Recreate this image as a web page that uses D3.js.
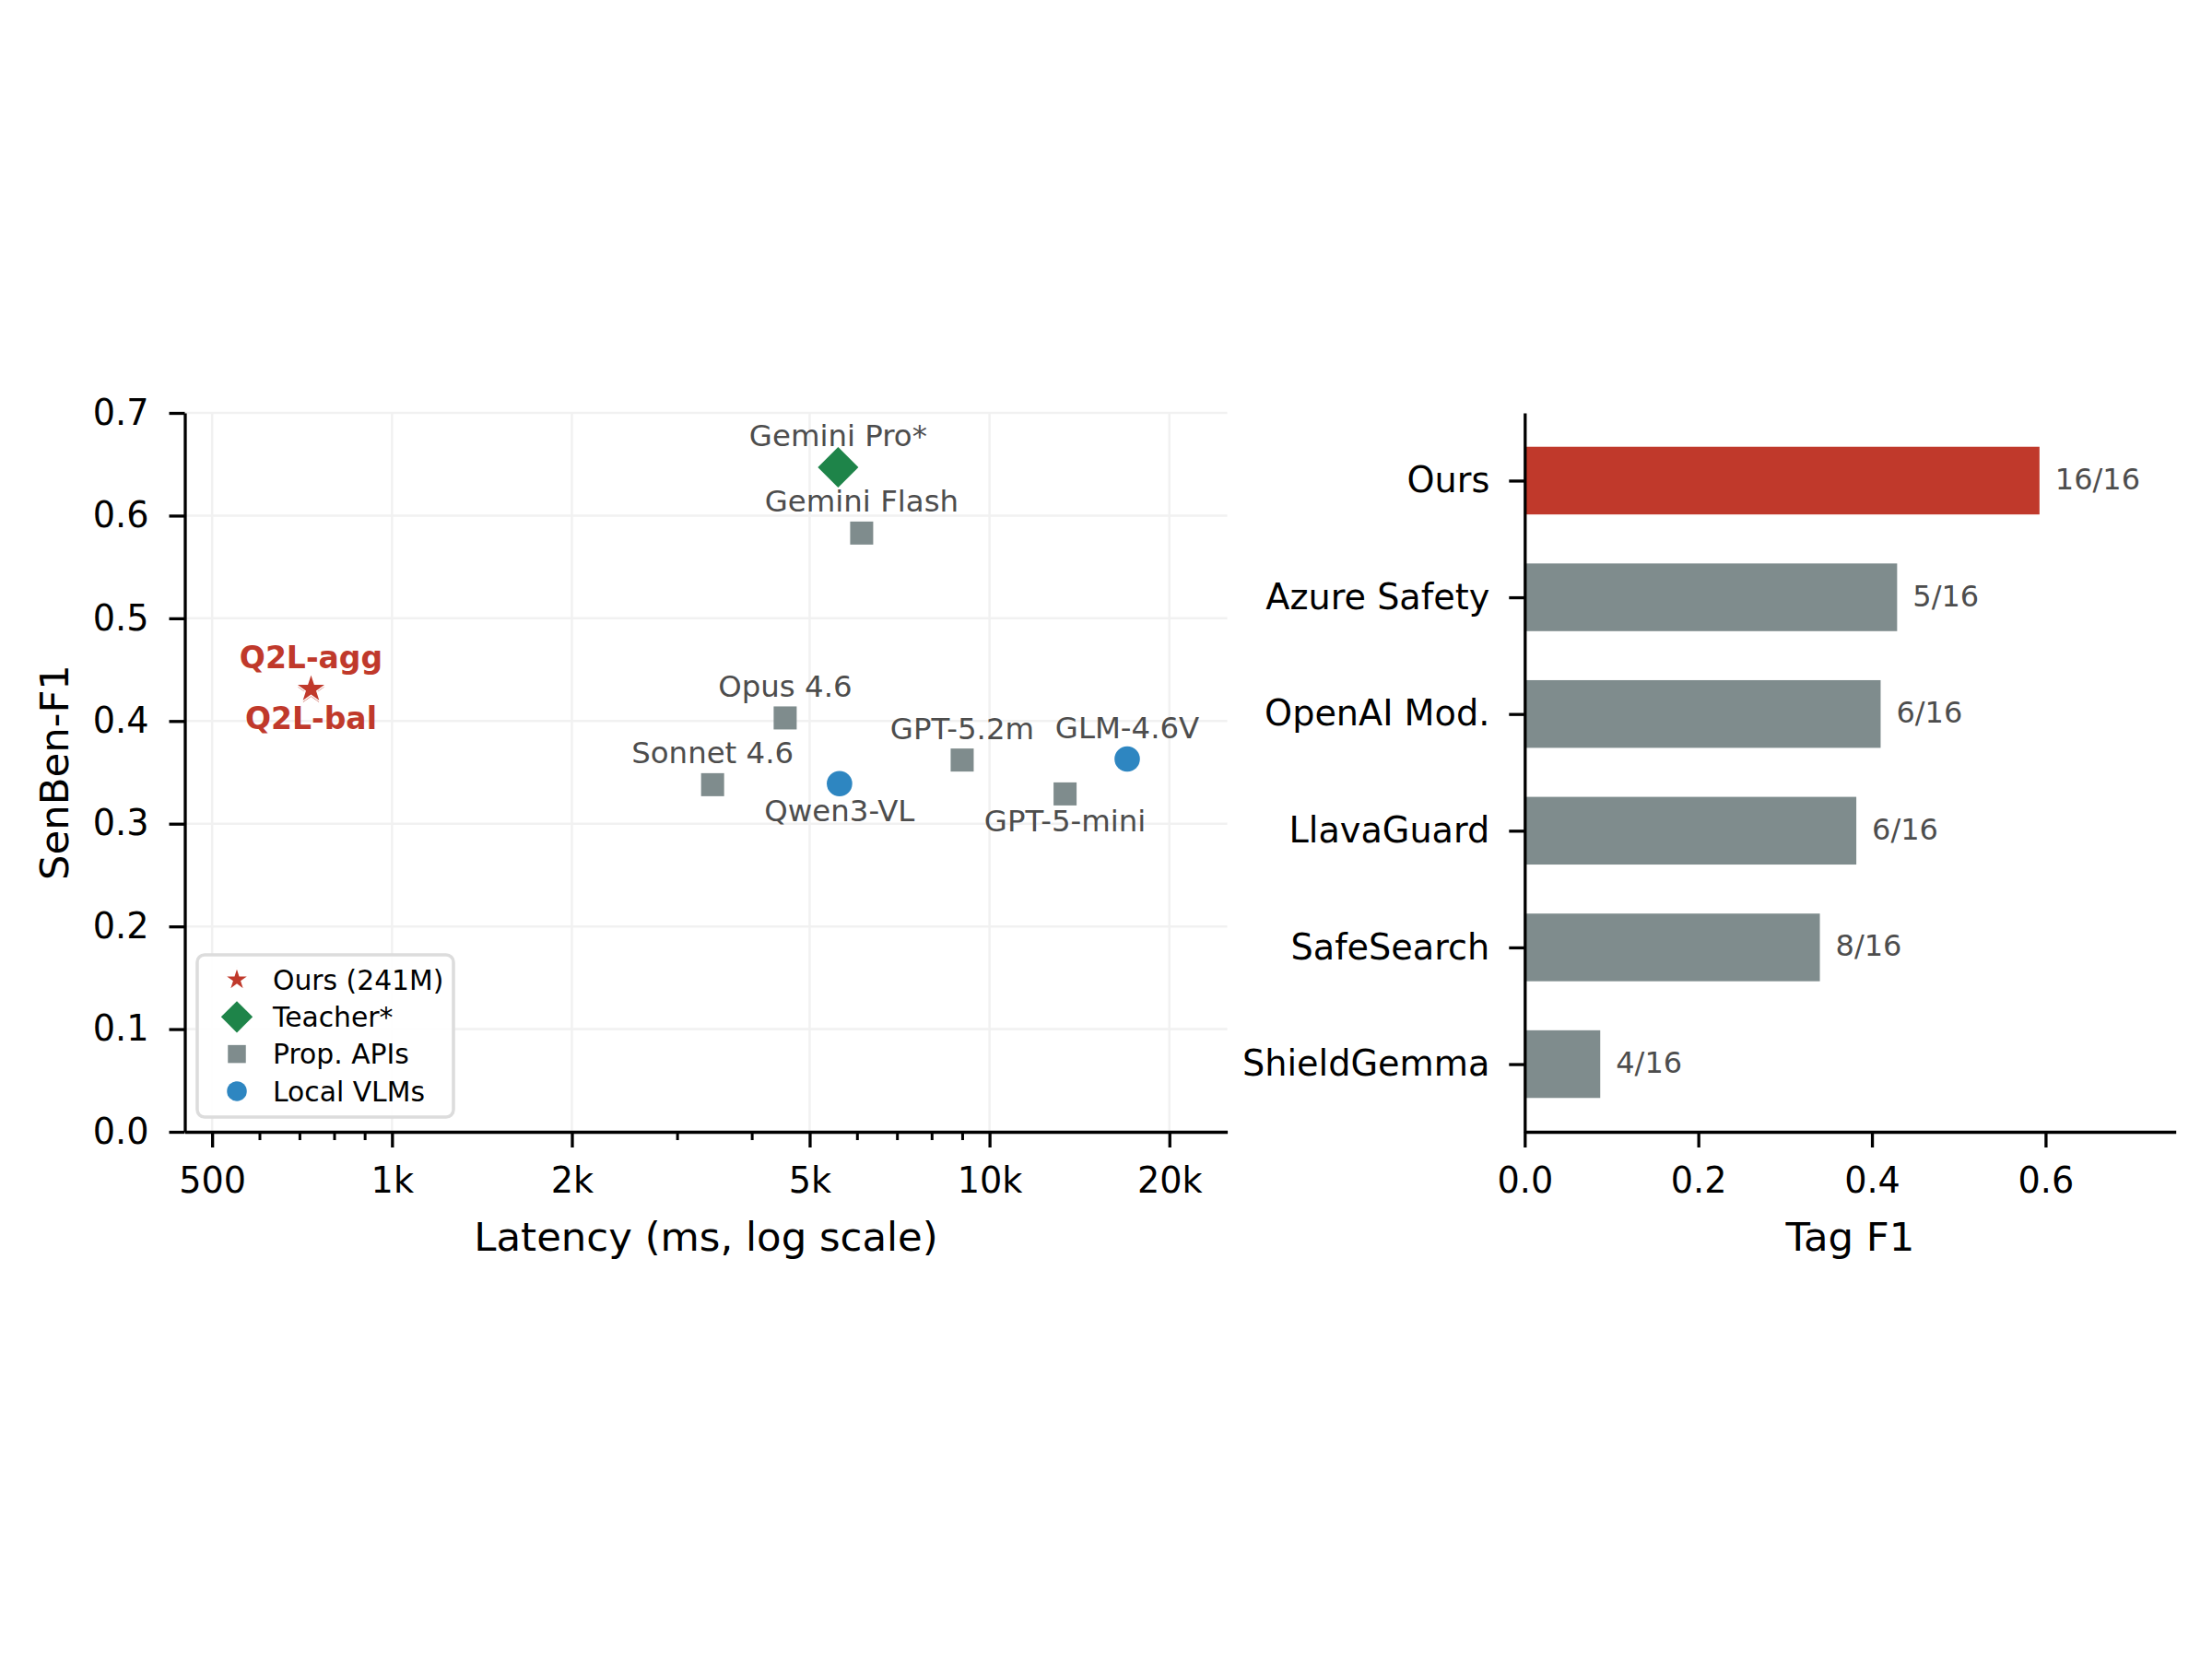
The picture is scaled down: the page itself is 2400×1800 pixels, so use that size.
<!DOCTYPE html>
<meta charset="utf-8">
<style>
  body { margin: 0; background: #fff; }
  text { font-family: "DejaVu Sans", sans-serif; }
</style>
<body>
<svg id="chart" width="2400" height="1800"></svg>
</body>
<script src="https://d3js.org/d3.v7.min.js"></script>
<script>
// left panel data: latency vs SenBen-F1
var modelNames = ["Q2L-bal", "Q2L-agg", "Gemini Pro*", "Gemini Flash", "Opus 4.6", "Sonnet 4.6", "Qwen3-VL", "GPT-5.2m", "GPT-5-mini", "GLM-4.6V"];
var modelGroups = ["ours", "ours", "teacher", "api", "api", "api", "local", "api", "api", "local"];
var latencyMs = [732, 732, 5580, 6110, 4550, 3440, 5610, 9000, 13380, 17000];
var senbenF1 = [0.429, 0.431, 0.647, 0.583, 0.403, 0.338, 0.339, 0.362, 0.329, 0.363];

var latencyTicks = [500, 1000, 2000, 5000, 10000, 20000];
var latencyTickLabels = ["500", "1k", "2k", "5k", "10k", "20k"];
var latencyMinor = [600, 700, 800, 900, 3000, 4000, 6000, 7000, 8000, 9000];

var legendGroups = ["ours", "teacher", "api", "local"];
var legendLabels = ["Ours (241M)", "Teacher*", "Prop. APIs", "Local VLMs"];

// right panel data: tag F1
var tagModels = ["Ours", "Azure Safety", "OpenAI Mod.", "LlavaGuard", "SafeSearch", "ShieldGemma"];
var tagF1 = [0.593, 0.429, 0.410, 0.382, 0.340, 0.087];
var tagCoverage = ["16/16", "5/16", "6/16", "6/16", "8/16", "4/16"];

// styling
var colors = {ours: "#c0392b", teacher: "#1e8449", api: "#7f8c8d", local: "#2e86c1"};
var labelBelow = {"Q2L-bal": true, "Qwen3-VL": true, "GPT-5-mini": true};
var tickFont = 38.2, labelFont = 43.4, annFont = 32.4, legendFont = 29.8;

var svg = d3.select("#chart");

function starPath(R) {
  var pts = [];
  for (var i = 0; i < 10; i++) {
    var r = i % 2 ? R * 0.382 : R;
    var a = -Math.PI / 2 + i * Math.PI / 5;
    pts.push([r * Math.cos(a), r * Math.sin(a)]);
  }
  return "M" + pts.map(function(p){ return p[0].toFixed(2) + "," + p[1].toFixed(2); }).join("L") + "Z";
}

function drawMarker(g, group, scale) {
  var c = colors[group];
  if (group == "ours") {
    g.append("path").attr("d", starPath(17.5 * scale)).attr("fill", c)
      .attr("stroke", "#fff").attr("stroke-width", 1.5);
  } else if (group == "teacher") {
    var h = 22 * scale;
    g.append("path").attr("d", "M0," + (-h) + "L" + h + ",0L0," + h + "L" + (-h) + ",0Z").attr("fill", c);
  } else if (group == "api") {
    var s = 25 * scale;
    g.append("rect").attr("x", -s / 2).attr("y", -s / 2).attr("width", s).attr("height", s).attr("fill", c);
  } else {
    g.append("circle").attr("r", 13.8 * scale).attr("fill", c);
  }
}

function styleAxis(g) {
  g.select(".domain").attr("stroke", "#000").attr("stroke-width", 3.3);
  g.selectAll(".tick line").attr("stroke", "#000").attr("stroke-width", 3.3);
  g.selectAll(".tick text").attr("fill", "#000").style("font-size", tickFont + "px")
    .style("font-family", "DejaVu Sans");
}

// ---------- left panel ----------
var x = d3.scaleLog().domain([450, 25000]).range([200.5, 1331.6]),
    y = d3.scaleLinear().domain([0, 0.7]).range([1228, 448]);

var left = svg.append("g");

// grid
left.append("g").selectAll("line").data(latencyTicks).enter().append("line")
  .attr("x1", function(d){ return x(d); }).attr("x2", function(d){ return x(d); })
  .attr("y1", y(0)).attr("y2", y(0.7))
  .attr("stroke", "#f1f1f1").attr("stroke-width", 2.5);
left.append("g").selectAll("line").data(d3.range(0, 8).map(function(i){ return i / 10; })).enter().append("line")
  .attr("x1", x.range()[0]).attr("x2", x.range()[1])
  .attr("y1", function(d){ return y(d); }).attr("y2", function(d){ return y(d); })
  .attr("stroke", "#f1f1f1").attr("stroke-width", 2.5);

// axes
var xAxis = left.append("g").attr("transform", "translate(0," + y(0) + ")")
  .call(d3.axisBottom(x).tickValues(latencyTicks)
    .tickFormat(function(d, i){ return latencyTickLabels[i]; })
    .tickSize(17).tickPadding(22).tickSizeOuter(0));
styleAxis(xAxis);
left.append("g").attr("transform", "translate(0," + y(0) + ")")
  .call(d3.axisBottom(x).tickValues(latencyMinor).tickFormat("").tickSize(9).tickSizeOuter(0))
  .call(function(g){
    g.select(".domain").remove();
    g.selectAll(".tick line").attr("stroke", "#000").attr("stroke-width", 3);
  });

var yAxis = left.append("g").attr("transform", "translate(" + x.range()[0] + ",0)")
  .call(d3.axisLeft(y).tickValues(d3.range(0, 8).map(function(i){ return i / 10; }))
    .tickFormat(d3.format(".1f")).tickSize(17).tickPadding(22).tickSizeOuter(0));
styleAxis(yAxis);

left.append("text").attr("x", (x.range()[0] + x.range()[1]) / 2).attr("y", 1357)
  .attr("text-anchor", "middle").style("font-size", labelFont + "px").text("Latency (ms, log scale)");
left.append("text").attr("transform", "translate(74," + (y(0.35)) + ") rotate(-90)")
  .attr("text-anchor", "middle").style("font-size", labelFont + "px").text("SenBen-F1");

// points
modelNames.forEach(function(name, i){
  var g = left.append("g").attr("transform", "translate(" + x(latencyMs[i]) + "," + y(senbenF1[i]) + ")");
  drawMarker(g, modelGroups[i], 1);
});

// annotations
modelNames.forEach(function(name, i){
  var ours = modelGroups[i] == "ours";
  left.append("text")
    .attr("x", x(latencyMs[i]))
    .attr("y", y(senbenF1[i]) + (labelBelow[name] ? 41 : -23))
    .attr("text-anchor", "middle")
    .attr("fill", ours ? colors.ours : "#4d4d4d")
    .attr("font-weight", ours ? "bold" : "normal")
    .style("font-size", (ours ? 33 : annFont) + "px")
    .text(name);
});

// legend
var legend = left.append("g");
legend.append("rect").attr("x", 214).attr("y", 1036).attr("width", 278).attr("height", 176)
  .attr("rx", 8).attr("fill", "#fff").attr("fill-opacity", 0.9)
  .attr("stroke", "#dcdcdc").attr("stroke-width", 3.5);
legendGroups.forEach(function(grp, i){
  var cy = 1063 + i * 40.3;
  var g = legend.append("g").attr("transform", "translate(257," + cy + ")");
  drawMarker(g, grp, 0.78);
  legend.append("text").attr("x", 296).attr("y", cy).attr("dy", "0.36em")
    .style("font-size", legendFont + "px").text(legendLabels[i]);
});

// ---------- right panel ----------
var xb = d3.scaleLinear().domain([0, 0.75]).range([1654.3, 2360.7]),
    yb = d3.scaleLinear().domain([-0.58, 5.58]).range([1228, 448]);
var barH = yb(0) - yb(0.58);
var n = tagModels.length;

var right = svg.append("g");
right.selectAll("rect.bar").data(tagF1).enter().append("rect")
  .attr("class", "bar")
  .attr("x", xb(0))
  .attr("y", function(d, i){ return yb(n - 1 - i) - barH / 2; })
  .attr("width", function(d){ return xb(d) - xb(0); })
  .attr("height", barH)
  .attr("fill", function(d, i){ return i == 0 ? colors.ours : colors.api; });

right.selectAll("text.val").data(tagF1).enter().append("text")
  .attr("class", "val")
  .attr("x", function(d){ return xb(d) + 17; })
  .attr("y", function(d, i){ return yb(n - 1 - i) - 2; })
  .attr("dy", "0.36em")
  .attr("fill", "#4d4d4d")
  .style("font-size", "32px")
  .text(function(d, i){ return tagCoverage[i]; });

var xbAxis = right.append("g").attr("transform", "translate(0," + yb.range()[0] + ")")
  .call(d3.axisBottom(xb).tickValues([0, 0.2, 0.4, 0.6]).tickFormat(d3.format(".1f"))
    .tickSize(17).tickPadding(22).tickSizeOuter(0));
styleAxis(xbAxis);

var ybAxis = right.append("g").attr("transform", "translate(" + xb(0) + ",0)")
  .call(d3.axisLeft(yb).tickValues(d3.range(n))
    .tickFormat(function(d){ return tagModels[n - 1 - d]; })
    .tickSize(17).tickPadding(21).tickSizeOuter(0));
styleAxis(ybAxis);

right.append("text").attr("x", (xb.range()[0] + xb.range()[1]) / 2).attr("y", 1357)
  .attr("text-anchor", "middle").style("font-size", labelFont + "px").text("Tag F1");
</script>
